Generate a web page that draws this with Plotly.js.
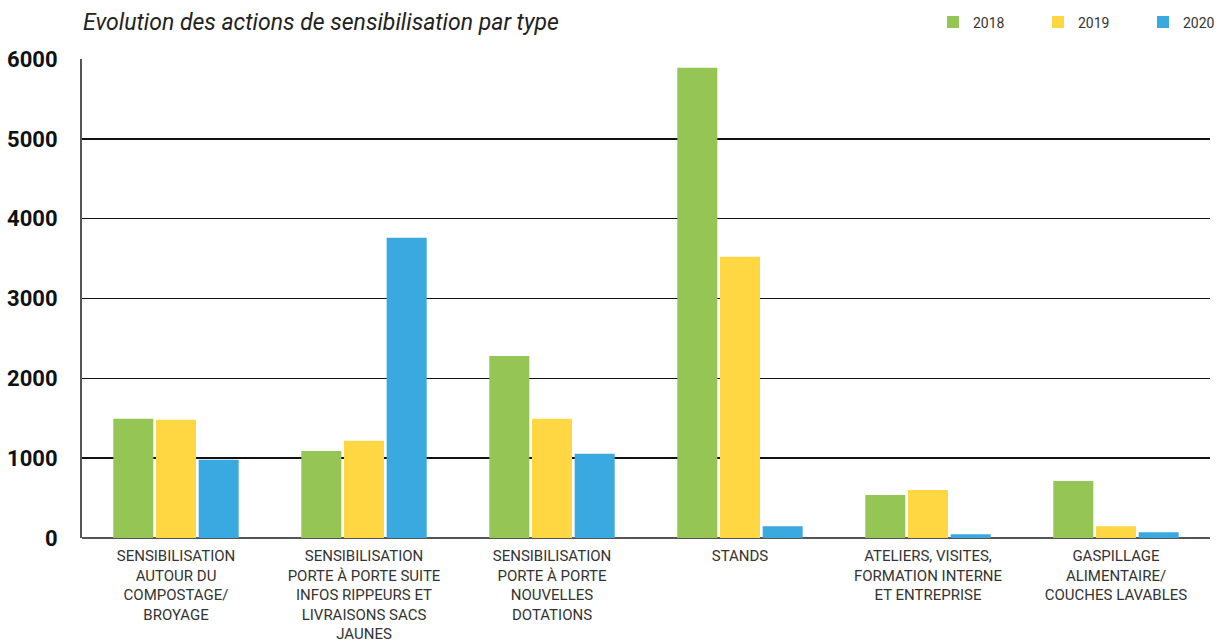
<!DOCTYPE html>
<html>
<head>
<meta charset="utf-8">
<script src="https://cdn.plot.ly/plotly-3.0.1.min.js"></script>
<style>html,body{margin:0;padding:0;background:#fff;}#chart{width:1217px;height:642px;}</style>
</head>
<body>
<div id="chart"></div>
<script>
const categories = [
  "SENSIBILISATION<br>AUTOUR DU<br>COMPOSTAGE/<br>BROYAGE",
  "SENSIBILISATION<br>PORTE À PORTE SUITE<br>INFOS RIPPEURS ET<br>LIVRAISONS SACS<br>JAUNES",
  "SENSIBILISATION<br>PORTE À PORTE<br>NOUVELLES<br>DOTATIONS",
  "STANDS",
  "ATELIERS, VISITES,<br>FORMATION INTERNE<br>ET ENTREPRISE",
  "GASPILLAGE<br>ALIMENTAIRE/<br>COUCHES LAVABLES"
];
const values2018 = [1495, 1090, 2280, 5890, 538, 714];
const values2019 = [1482, 1217, 1495, 3522, 601, 147];
const values2020 = [979, 3762, 1055, 147, 46, 71];
const yTicks = [0, 1000, 2000, 3000, 4000, 5000, 6000];

const traces = [
  {type: 'bar', name: '2018', x: categories, y: values2018, marker: {color: '#95C555'}},
  {type: 'bar', name: '2019', x: categories, y: values2019, marker: {color: '#FFD742'}},
  {type: 'bar', name: '2020', x: categories, y: values2020, marker: {color: '#39A9E0'}}
];

const layout = {
  width: 1217, height: 642,
  paper_bgcolor: '#ffffff', plot_bgcolor: '#ffffff',
  margin: {l: 82, r: 7, t: 59, b: 104},
  barmode: 'group', bargap: 0.319, bargroupgap: 0.0625,
  font: {family: 'Roboto, sans-serif', color: '#333'},
  title: {
    text: 'Evolution des actions de sensibilisation par type',
    font: {family: 'Roboto, sans-serif', size: 23, color: '#222', style: 'italic'},
    xref: 'container', yref: 'container', x: 83/1217, xanchor: 'left', y: 1 - 22/642, yanchor: 'middle'
  },
  showlegend: true,
  legend: {
    orientation: 'h', xref: 'container', yref: 'container',
    x: 933/1217, xanchor: 'left', y: 1 - 22.5/642, yanchor: 'middle',
    entrywidth: 60, entrywidthmode: 'pixels',
    font: {family: 'Roboto, sans-serif', size: 14, color: '#333'},
    traceorder: 'normal', bgcolor: 'rgba(0,0,0,0)'
  },
  xaxis: {
    type: 'category', range: [-0.5, 5.5], showgrid: false, zeroline: false,
    showline: false, ticks: '', ticklabelstandoff: 7,
    tickfont: {family: 'Roboto, sans-serif', size: 15, color: '#333'},
    fixedrange: true
  },
  yaxis: {
    range: [0, 6000], tickvals: yTicks, ticktext: yTicks.map(String),
    showgrid: true, gridcolor: '#111', gridwidth: 1.5,
    zeroline: true, zerolinecolor: '#555', zerolinewidth: 2,
    showline: true, linecolor: '#555', linewidth: 2,
    ticks: '', ticklabelstandoff: 18,
    tickfont: {family: 'Roboto, sans-serif', size: 22, color: '#111', weight: 'bold'},
    fixedrange: true
  }
};

Plotly.newPlot('chart', traces, layout, {displayModeBar: false, staticPlot: true});
</script>
</body>
</html>
